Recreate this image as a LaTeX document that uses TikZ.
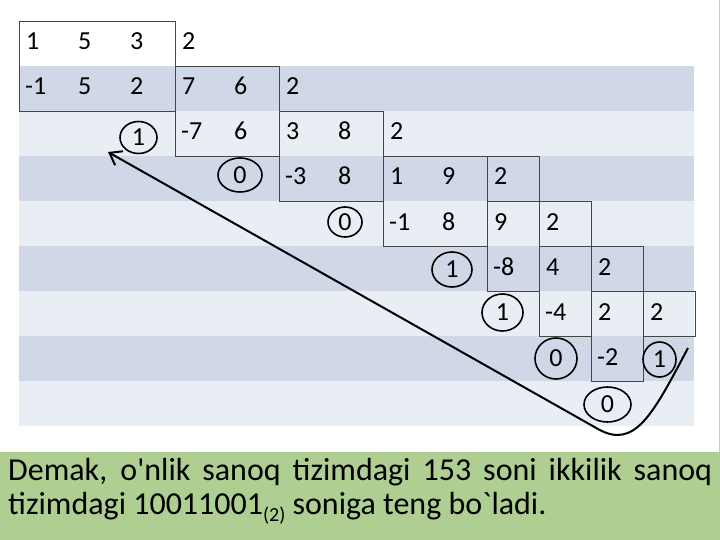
\documentclass[tikz,border=0pt]{standalone}
\usepackage{fontspec}
\setmainfont{Carlito}[Numbers=Lining]
\usetikzlibrary{shapes.geometric,arrows.meta}
\definecolor{banddark}{RGB}{208,216,232}
\definecolor{bandlight}{RGB}{233,237,244}
\definecolor{notegreen}{RGB}{175,206,145}
\definecolor{edgegreen}{RGB}{190,214,170}
\definecolor{gridgrey}{RGB}{70,70,70}
\hyphenpenalty=10000
\exhyphenpenalty=10000

\begin{document}
\begin{tikzpicture}[x=1pt,y=-1pt,
		num/.style={anchor=base west, inner sep=0pt, font=\fontsize{26}{30}\selectfont},
		rem/.style={draw, ellipse, line width=1.6pt, inner sep=0pt, font=\fontsize{26}{30}\selectfont},
		cellbox/.style={draw=gridgrey, line width=0.8pt}]
		\useasboundingbox (0,0) rectangle (720,540);
		\fill[white] (0,0) rectangle (720,540);
		\foreach \y in {66,156,246,336} \fill[banddark] (19,\y) rectangle (694,\y+45);
		\foreach \y in {111,201,291,381} \fill[bandlight] (19,\y) rectangle (694,\y+45);

		\draw[cellbox] (19,21) rectangle (175,111);
		\draw[cellbox] (175,66) rectangle (279,156);
		\draw[cellbox] (279,111) rectangle (383,201);
		\draw[cellbox] (383,156) rectangle (487,246);
		\draw[cellbox] (487,156) rectangle (539,201);
		\draw[cellbox] (487,201) rectangle (539,291);
		\draw[cellbox] (539,201) rectangle (591,246);
		\draw[cellbox] (539,246) rectangle (591,336);
		\draw[cellbox] (591,246) rectangle (643,291);
		\draw[cellbox] (591,291) rectangle (643,381);
		\draw[cellbox] (643,291) rectangle (695,336);

		\node[num] (a1) at (26,50) {1};
		\node[num] (a2) at (78,50) {5};
		\node[num] (a3) at (130,50) {3};
		\node[num] (a4) at (182,50) {2};
		\node[num] (b1) at (25,95) {-1};
		\node[num] (b2) at (78,95) {5};
		\node[num] (b3) at (130,95) {2};
		\node[num] (b4) at (182,95) {7};
		\node[num] (b5) at (234,95) {6};
		\node[num] (b6) at (286,95) {2};
		\node[num] (c1) at (181,140) {-7};
		\node[num] (c2) at (234,140) {6};
		\node[num] (c3) at (286,140) {3};
		\node[num] (c4) at (338,140) {8};
		\node[num] (c5) at (390,140) {2};
		\node[num] (d1) at (285,185) {-3};
		\node[num] (d2) at (338,185) {8};
		\node[num] (d3) at (390,185) {1};
		\node[num] (d4) at (442,185) {9};
		\node[num] (d5) at (494,185) {2};
		\node[num] (e1) at (389,230) {-1};
		\node[num] (e2) at (442,230) {8};
		\node[num] (e3) at (494,230) {9};
		\node[num] (e4) at (546,230) {2};
		\node[num] (f1) at (493,275) {-8};
		\node[num] (f2) at (546,275) {4};
		\node[num] (f3) at (598,275) {2};
		\node[num] (g1) at (545,320) {-4};
		\node[num] (g2) at (598,320) {2};
		\node[num] (g3) at (650,320) {2};
		\node[num] (h1) at (597,365) {-2};

		\node[rem, minimum width=37pt, minimum height=32pt] (r1) at (138.5,137.5) {1};
		\node[rem, minimum width=44pt, minimum height=34pt] (r2) at (240,175) {0};
		\node[rem, minimum width=34pt, minimum height=30pt] (r3) at (345,222) {0};
		\node[rem, minimum width=40pt, minimum height=35pt] (r4) at (452,269.5) {1};
		\node[rem, minimum width=41pt, minimum height=37pt] (r5) at (502.5,312.5) {1};
		\node[rem, minimum width=42pt, minimum height=41pt] (r6) at (556,358.5) {0};
		\node[rem, minimum width=33pt, minimum height=35pt] (r7) at (659.5,359.5) {1};
		\node[rem, minimum width=47pt, minimum height=35pt] (r8) at (607.5,404.5) {0};

		\coordinate (tail) at (688,348);
		\coordinate (tip) at (108,152);
		\draw[line width=2pt, -{Straight Barb[length=11pt,width=16pt]}] (tail) .. controls (653,414) and (635,450) .. (598,429) -- (tip);

		\fill[notegreen] (0,452) rectangle (720,540);
		\draw[edgegreen, line width=1pt] (719.5,0) -- (719.5,452);
		\node[anchor=base west, inner sep=0pt, text width=704pt, align=justify, font=\fontsize{32}{34}\selectfont] (note) at (8,480)
			{Demak, o\textquotesingle nlik sanoq tizimdagi 153 soni ikkilik sanoq \mbox{tizimdagi} 10011001\raisebox{-7pt}{\fontsize{20}{20}\selectfont(2)} soniga teng bo\textasciigrave ladi.};
\end{tikzpicture}
\end{document}
